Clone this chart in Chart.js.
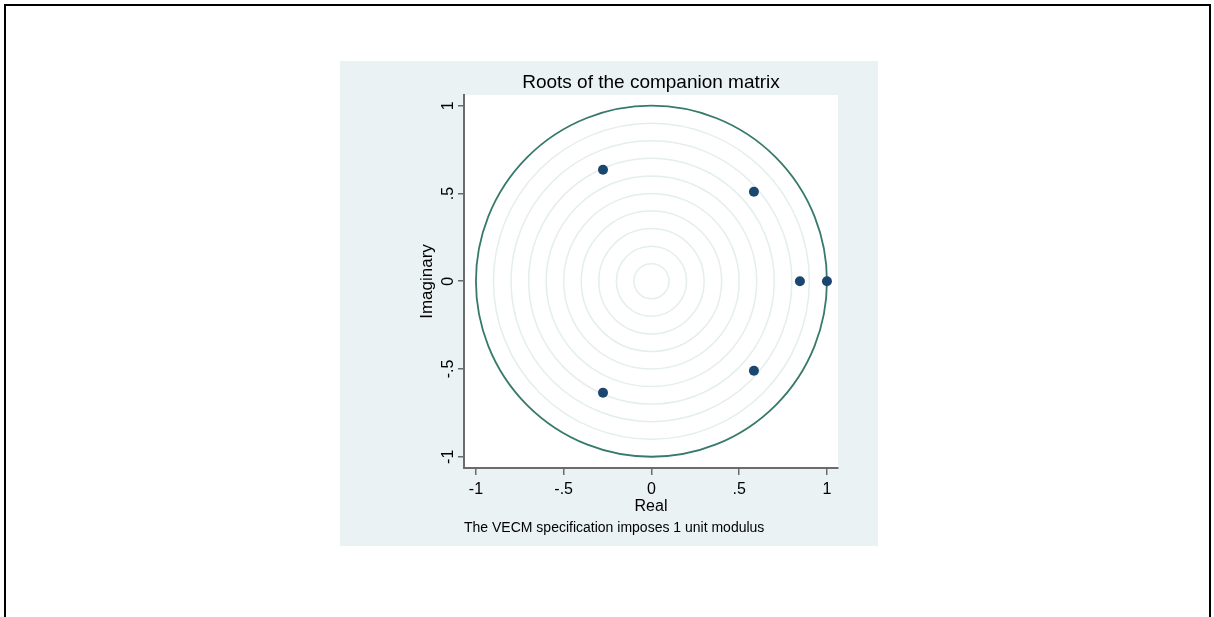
<!DOCTYPE html>
<html>
<head>
<meta charset="utf-8">
<script src="https://cdn.jsdelivr.net/npm/chart.js@4"></script>
<style>
  html, body { margin: 0; padding: 0; background: #fff; overflow: hidden; }
  .frame { position: absolute; left: 4px; top: 4px; width: 1207px; height: 700px; box-sizing: border-box; border: 2px solid #000; border-bottom: none; }
  .panel { position: absolute; left: 340px; top: 61px; width: 538px; height: 485px; background: #eaf2f3; }
</style>
</head>
<body>
<div class="frame"></div>
<div class="panel"><canvas id="rootsChart" width="538" height="485"></canvas></div>
<script>
// eigenvalues of the companion matrix (real, imaginary)
const realParts = [-0.276, -0.276, 0.584, 0.584, 0.846, 1.0];
const imagParts = [0.635, -0.635, 0.51, -0.51, 0, 0];
const ringRadii = [0.1, 0.2, 0.3, 0.4, 0.5, 0.6, 0.7, 0.8, 0.9];
const unitRadius = 1;
const tickValues = [-1, -0.5, 0, 0.5, 1];
const tickLabels = ["-1", "-.5", "0", ".5", "1"];

const font = "'Liberation Sans', Arial, sans-serif";

const circles = {
  id: "circles",
  beforeDraw(chart) {
    const { ctx, chartArea } = chart;
    ctx.save();
    ctx.fillStyle = "#ffffff";
    ctx.fillRect(chartArea.left, chartArea.top, chartArea.right - chartArea.left, chartArea.bottom - chartArea.top);
    ctx.restore();
  },
  beforeDatasetsDraw(chart) {
    const { ctx, scales } = chart;
    const cx = scales.x.getPixelForValue(0);
    const cy = scales.y.getPixelForValue(0);
    const ring = (r, color, width) => {
      const rx = scales.x.getPixelForValue(r) - cx;
      const ry = cy - scales.y.getPixelForValue(r);
      ctx.beginPath();
      ctx.ellipse(cx, cy, rx, ry, 0, 0, Math.PI * 2);
      ctx.strokeStyle = color;
      ctx.lineWidth = width;
      ctx.stroke();
    };
    ctx.save();
    ringRadii.forEach((r) => ring(r, "#e4eeee", 1.5));
    ring(unitRadius, "#357a6b", 1.8);
    ctx.restore();
  },
};

const fixTicks = (scale) => {
  scale.ticks = tickValues.map((value) => ({ value }));
};
const tickLabel = (value) => tickLabels[tickValues.indexOf(value)] ?? "";

new Chart(document.querySelector("#rootsChart"), {
  type: "scatter",
  data: {
    datasets: [{
      label: "Roots",
      data: realParts.map((re, i) => ({ x: re, y: imagParts[i] })),
      pointRadius: 5,
      pointHoverRadius: 5,
      backgroundColor: "#1a476f",
      borderColor: "#1a476f",
      borderWidth: 0,
    }],
  },
  options: {
    responsive: false,
    animation: false,
    events: [],
    layout: { padding: { left: 77, right: 40, top: 0, bottom: 4 } },
    plugins: {
      legend: { display: false },
      tooltip: { enabled: false },
      title: {
        display: true,
        text: "Roots of the companion matrix",
        fullSize: false,
        color: "#000",
        font: { family: font, size: 19, weight: "normal", lineHeight: 1.2 },
        padding: { top: 10, bottom: 1.2 },
      },
      subtitle: {
        display: true,
        position: "bottom",
        text: "The VECM specification imposes 1 unit modulus",
        fullSize: false,
        align: "start",
        color: "#000",
        font: { family: font, size: 14, lineHeight: 1.2 },
        padding: { top: 3.4, bottom: 5.6 },
      },
    },
    scales: {
      x: {
        type: "linear",
        min: -1.068,
        max: 1.063,
        afterBuildTicks: fixTicks,
        afterFit: (scale) => { scale.height = 48.2; },
        border: { display: true, color: "#6b6b6b", width: 2 },
        grid: { drawOnChartArea: false, drawTicks: true, tickLength: 7, tickColor: "#6b6b6b", lineWidth: 1.5 },
        ticks: { callback: tickLabel, color: "#000", padding: 7, maxRotation: 0, font: { family: font, size: 16, lineHeight: 1 } },
        title: { display: true, text: "Real", color: "#000", font: { family: font, size: 16, lineHeight: 1.2 }, padding: { top: 0, bottom: 0 } },
      },
      y: {
        type: "linear",
        min: -1.064,
        max: 1.061,
        afterBuildTicks: fixTicks,
        afterFit: (scale) => { scale.width = 47; },
        border: { display: true, color: "#6b6b6b", width: 2 },
        grid: { drawOnChartArea: false, drawTicks: true, tickLength: 6, tickColor: "#6b6b6b", lineWidth: 1.5 },
        ticks: { callback: tickLabel, color: "#000", padding: 0, minRotation: 90, maxRotation: 90, crossAlign: "center", font: { family: font, size: 16, lineHeight: 1 } },
        title: { display: true, text: "Imaginary", color: "#000", font: { family: font, size: 17, lineHeight: 1.2 }, padding: { top: 0, bottom: 6 } },
      },
    },
  },
  plugins: [circles],
});
</script>
</body>
</html>
